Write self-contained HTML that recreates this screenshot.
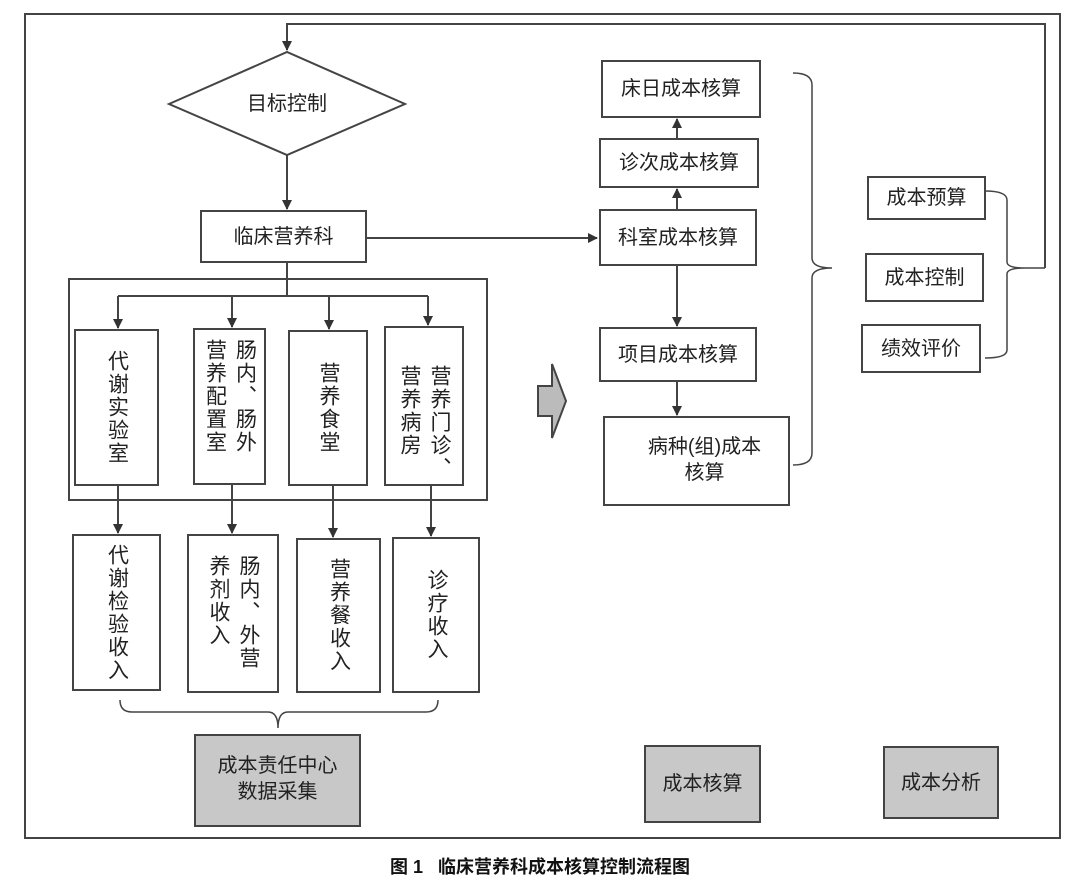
<!DOCTYPE html>
<html><head><meta charset="utf-8"><style>
body{margin:0;background:#fff;width:1080px;height:893px;position:relative;overflow:hidden;font-family:"Liberation Sans","Noto Sans CJK SC",sans-serif;color:#222}
svg{position:absolute;left:0;top:0}
.v{position:absolute;writing-mode:vertical-rl;font-size:21px;line-height:24px;letter-spacing:2px;display:flex;align-items:center;justify-content:center}
.v2{justify-content:flex-start;box-sizing:border-box;line-height:30px}
.h{position:absolute;font-size:20px;display:flex;align-items:center;justify-content:center;text-align:center;line-height:26px}
</style></head><body>
<svg width="1080" height="893" viewBox="0 0 1080 893">
<defs><marker id="a" markerWidth="10" markerHeight="12" refX="9" refY="5" orient="auto" markerUnits="userSpaceOnUse"><path d="M0,0 L10,5 L0,10 Z" fill="#333"/></marker></defs>
<g fill="none" stroke="#444" stroke-width="2">
<rect x="25" y="14" width="1035" height="824"/>
<polygon points="169,104 287,52 405,104 287,155" fill="#fff"/>
<polyline points="1045,268 1045,24 287,24 287,50" marker-end="url(#a)"/>
<line x1="287" y1="155" x2="287" y2="209" marker-end="url(#a)"/>
<rect x="201" y="211" width="165" height="51"/>
<line x1="366" y1="238" x2="597" y2="238" marker-end="url(#a)"/>
<rect x="602" y="61" width="158" height="56"/>
<rect x="600" y="139" width="158" height="48"/>
<rect x="600" y="210" width="156" height="55"/>
<rect x="600" y="328" width="156" height="53"/>
<rect x="604" y="417" width="185" height="88"/>
<line x1="677" y1="210" x2="677" y2="189" marker-end="url(#a)"/>
<line x1="677" y1="139" x2="677" y2="119" marker-end="url(#a)"/>
<line x1="677" y1="265" x2="677" y2="326" marker-end="url(#a)"/>
<line x1="677" y1="381" x2="677" y2="415" marker-end="url(#a)"/>
<path d="M793,73 Q812,73 812,85 L812,258 Q812,268 832,268 Q812,268 812,278 L812,453 Q812,465 793,465" stroke-width="1.5"/>
<rect x="868" y="177" width="117" height="42"/>
<rect x="866" y="254" width="117" height="47"/>
<rect x="862" y="325" width="118" height="47"/>
<path d="M985,191 Q1007,191 1007,200 L1007,262 Q1007,268 1025,268 Q1007,268 1007,274 L1007,350 Q1007,358 985,358 M1025,268 L1045,268" stroke-width="1.5"/>
<rect x="69" y="279" width="418" height="221"/>
<polyline points="287,262 287,296"/>
<line x1="118" y1="296" x2="428" y2="296"/>
<line x1="118" y1="296" x2="118" y2="328" marker-end="url(#a)"/>
<line x1="232" y1="296" x2="232" y2="327" marker-end="url(#a)"/>
<line x1="329" y1="296" x2="329" y2="329" marker-end="url(#a)"/>
<line x1="428" y1="296" x2="428" y2="325" marker-end="url(#a)"/>
<rect x="75" y="330" width="83" height="155"/>
<rect x="194" y="329" width="71" height="155"/>
<rect x="289" y="331" width="78" height="154"/>
<rect x="385" y="327" width="78" height="158"/>
<line x1="118" y1="485" x2="118" y2="533" marker-end="url(#a)"/>
<line x1="232" y1="484" x2="232" y2="533" marker-end="url(#a)"/>
<line x1="333" y1="485" x2="333" y2="537" marker-end="url(#a)"/>
<line x1="431" y1="485" x2="431" y2="536" marker-end="url(#a)"/>
<rect x="73" y="535" width="87" height="155"/>
<rect x="188" y="535" width="90" height="157"/>
<rect x="297" y="539" width="83" height="153"/>
<rect x="393" y="538" width="86" height="154"/>
<path d="M120,700 Q120,712 132,712 L268,712 Q278,712 278,728 Q278,712 288,712 L426,712 Q438,712 438,700" stroke-width="1.5"/>
<rect x="195" y="735" width="165" height="91" fill="#c8c8c8"/>
<rect x="645" y="746" width="115" height="76" fill="#c8c8c8"/>
<rect x="884" y="747" width="114" height="71" fill="#c8c8c8"/>
<polygon points="538,386 552,386 552,364 566,401 552,438 552,416 538,416" fill="#bbb"/>
</g>
</svg>
<div class="h" style="left:201px;top:78px;width:172px;height:52px">目标控制</div>
<div class="h" style="left:201px;top:211px;width:165px;height:51px">临床营养科</div>
<div class="h" style="left:602px;top:61px;width:158px;height:56px">床日成本核算</div>
<div class="h" style="left:600px;top:139px;width:158px;height:48px">诊次成本核算</div>
<div class="h" style="left:600px;top:210px;width:156px;height:55px">科室成本核算</div>
<div class="h" style="left:600px;top:328px;width:156px;height:53px">项目成本核算</div>
<div class="h" style="left:612px;top:430px;width:185px;height:60px">病种(组)成本<br>核算</div>
<div class="h" style="left:868px;top:177px;width:117px;height:42px">成本预算</div>
<div class="h" style="left:866px;top:254px;width:117px;height:47px">成本控制</div>
<div class="h" style="left:862px;top:325px;width:118px;height:47px">绩效评价</div>
<div class="h" style="left:195px;top:744px;width:165px;height:70px">成本责任中心<br>数据采集</div>
<div class="h" style="left:645px;top:746px;width:115px;height:76px">成本核算</div>
<div class="h" style="left:884px;top:747px;width:114px;height:71px">成本分析</div>
<div class="v" style="left:75px;top:330px;width:83px;height:155px">代谢实验室</div>
<div class="v v2" style="left:194px;top:329px;width:71px;height:155px;padding-top:10px">肠内、肠外<br>营养配置室</div>
<div class="v" style="left:289px;top:331px;width:78px;height:154px">营养食堂</div>
<div class="v v2" style="left:385px;top:327px;width:78px;height:158px;padding-top:38px">营养门诊、<br>营养病房</div>
<div class="v" style="left:73px;top:535px;width:87px;height:155px">代谢检验收入</div>
<div class="v v2" style="left:188px;top:535px;width:90px;height:157px;padding-top:20px">肠内、外营<br>养剂收入</div>
<div class="v" style="left:297px;top:539px;width:83px;height:153px">营养餐收入</div>
<div class="v" style="left:393px;top:538px;width:86px;height:154px">诊疗收入</div>
<div style="position:absolute;left:0;width:1080px;top:853px;text-align:center;font-size:18px;font-weight:bold;color:#111">图 1&nbsp;&nbsp;&nbsp;临床营养科成本核算控制流程图</div>
</body></html>
